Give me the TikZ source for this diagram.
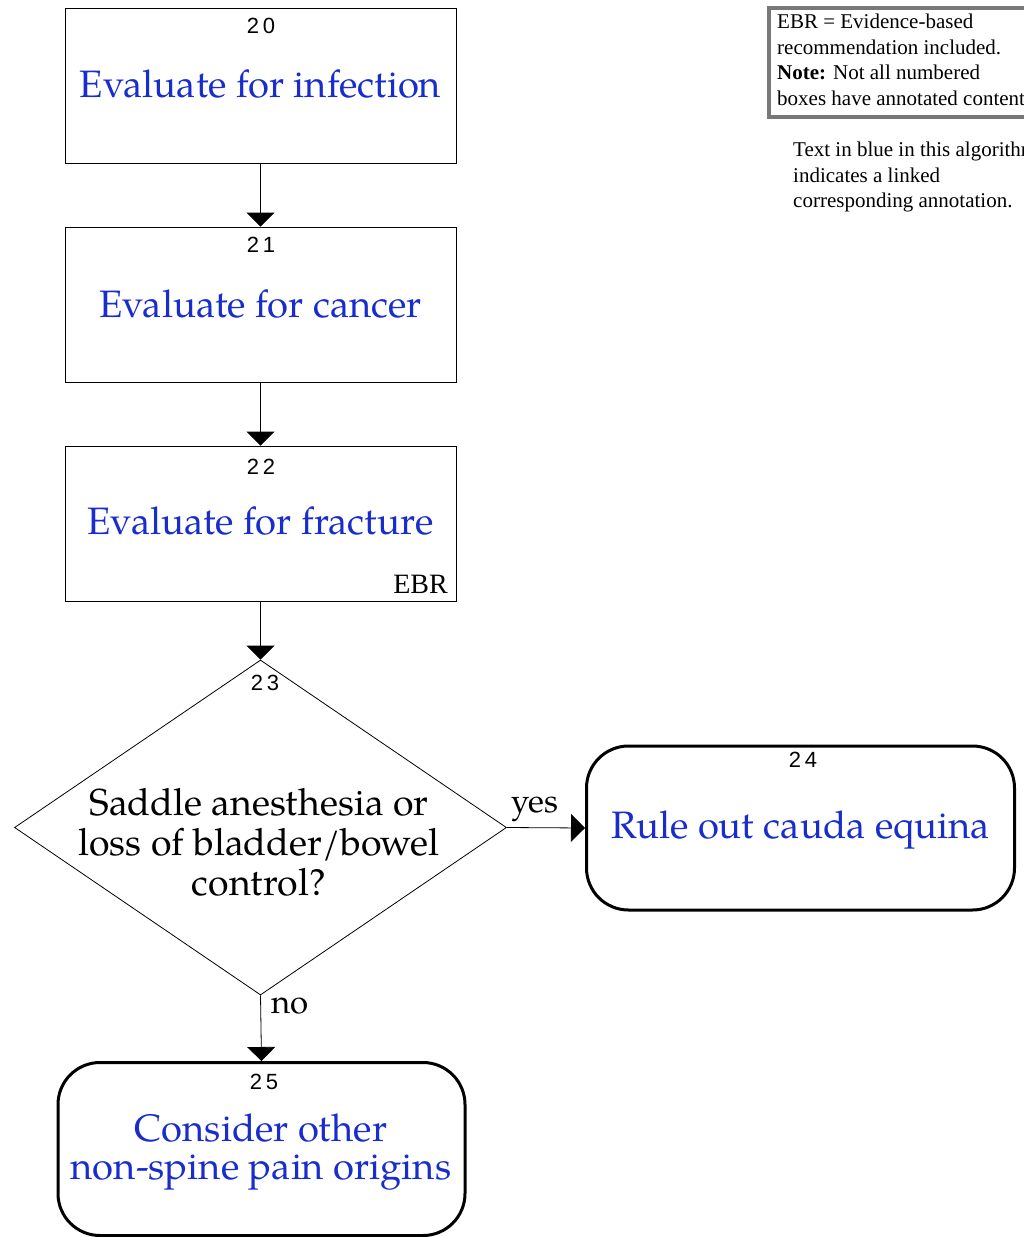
\documentclass[tikz,border=0pt]{standalone}
\usepackage{fontspec}
\setmainfont{Liberation Serif}
\newfontfamily\pala{TeX Gyre Pagella}
\newfontfamily\helv{Liberation Sans}
\usetikzlibrary{shapes.geometric,arrows.meta}
\definecolor{linkblue}{RGB}{25,45,205}
\definecolor{legendgray}{RGB}{120,120,120}
\begin{document}
\begin{tikzpicture}[x=1pt,y=-1pt,
  box/.style={draw, line width=0.8pt, minimum width=391pt, minimum height=155pt, inner sep=0pt},
  term/.style={draw, line width=3pt, rounded corners=42pt, inner sep=0pt},
  dia/.style={draw, diamond, line width=0.8pt, inner sep=0pt, minimum width=492pt, minimum height=335pt},
  num/.style={font=\helv\fontsize{22}{24}\selectfont, inner sep=0pt, anchor=base},
  bluetxt/.style={text=linkblue, font=\pala\fontsize{38.2}{38}\selectfont, inner sep=0pt, anchor=base},
  blktxt/.style={font=\pala\fontsize{37.5}{40}\selectfont, inner sep=0pt, anchor=base},
  lbl/.style={font=\pala\fontsize{33}{34}\selectfont, inner sep=0pt, anchor=base west},
  legend/.style={font=\fontsize{21}{25.5}\selectfont, inner sep=0pt, anchor=base west},
  arr/.style={line width=0.8pt, -{Triangle[width=28pt,length=14pt]}}]
\useasboundingbox (0,0) rectangle (1024,1237);
% boxes
\node[box] (b20) at (260.5,85.5) {};
\node[box] (b21) at (260.5,304.5) {};
\node[box] (b22) at (260.5,523.5) {};
\node[dia] (d23) at (260.5,827.5) {};
\node[term, minimum width=428pt, minimum height=164pt] (b24) at (800.5,828) {};
\node[term, minimum width=407pt, minimum height=173pt] (b25) at (261.5,1149) {};
% numbers
\node[num] (n20) at (261,33) {2\,0};
\node[num] (n21) at (261,252) {2\,1};
\node[num] (n22) at (261,474) {2\,2};
\node[num] (n23) at (265,690) {2\,3};
\node[num] (n24) at (803,767) {2\,4};
\node[num] (n25) at (264,1089) {2\,5};
% texts
\node[bluetxt] (t20) at (260.5,97) {Evaluate for infection};
\node[bluetxt] (t21) at (260.5,317) {Evaluate for cancer};
\node[bluetxt] (t22) at (260.5,534) {Evaluate for fracture};
\node[font=\fontsize{28}{30}\selectfont, inner sep=0pt, anchor=base east] (ebr) at (448,593) {EBR};
\node[blktxt] (t23a) at (259,815) {Saddle anesthesia or};
\node[blktxt] (t23b) at (259,855) {loss of bladder/bowel};
\node[blktxt] (t23c) at (259,895) {control?};
\node[bluetxt] (t24) at (801,838) {Rule out cauda equina};
\node[bluetxt] (t25a) at (261,1141.5) {Consider other};
\node[bluetxt] (t25b) at (261,1179.5) {non-spine pain origins};
% connectors
\draw[arr] (b20.south) -- (b21.north);
\draw[arr] (b21.south) -- (b22.north);
\draw[arr] (b22.south) -- (d23.north);
\draw[arr] (d23.east) -- (b24.west);
\draw[arr] (d23.south) -- (b25.north);
\node[lbl] (yes) at (511,812) {yes};
\node[lbl] (no) at (271,1013) {no};
% legend
\draw[legendgray, line width=4pt] (769,8) rectangle (1034,117);
\node[legend] (l1) at (777,28) {EBR = Evidence-based};
\node[legend] (l2) at (777,54) {recommendation included.};
\node[legend] (l3) at (777,79.5) {\textbf{Note:} Not all numbered};
\node[legend] (l4) at (777,105) {boxes have annotated content.};
\node[legend] (m1) at (793,156) {Text in blue in this algorithm};
\node[legend] (m2) at (793,182) {indicates a linked};
\node[legend] (m3) at (793,207) {corresponding annotation.};
\end{tikzpicture}
\end{document}
